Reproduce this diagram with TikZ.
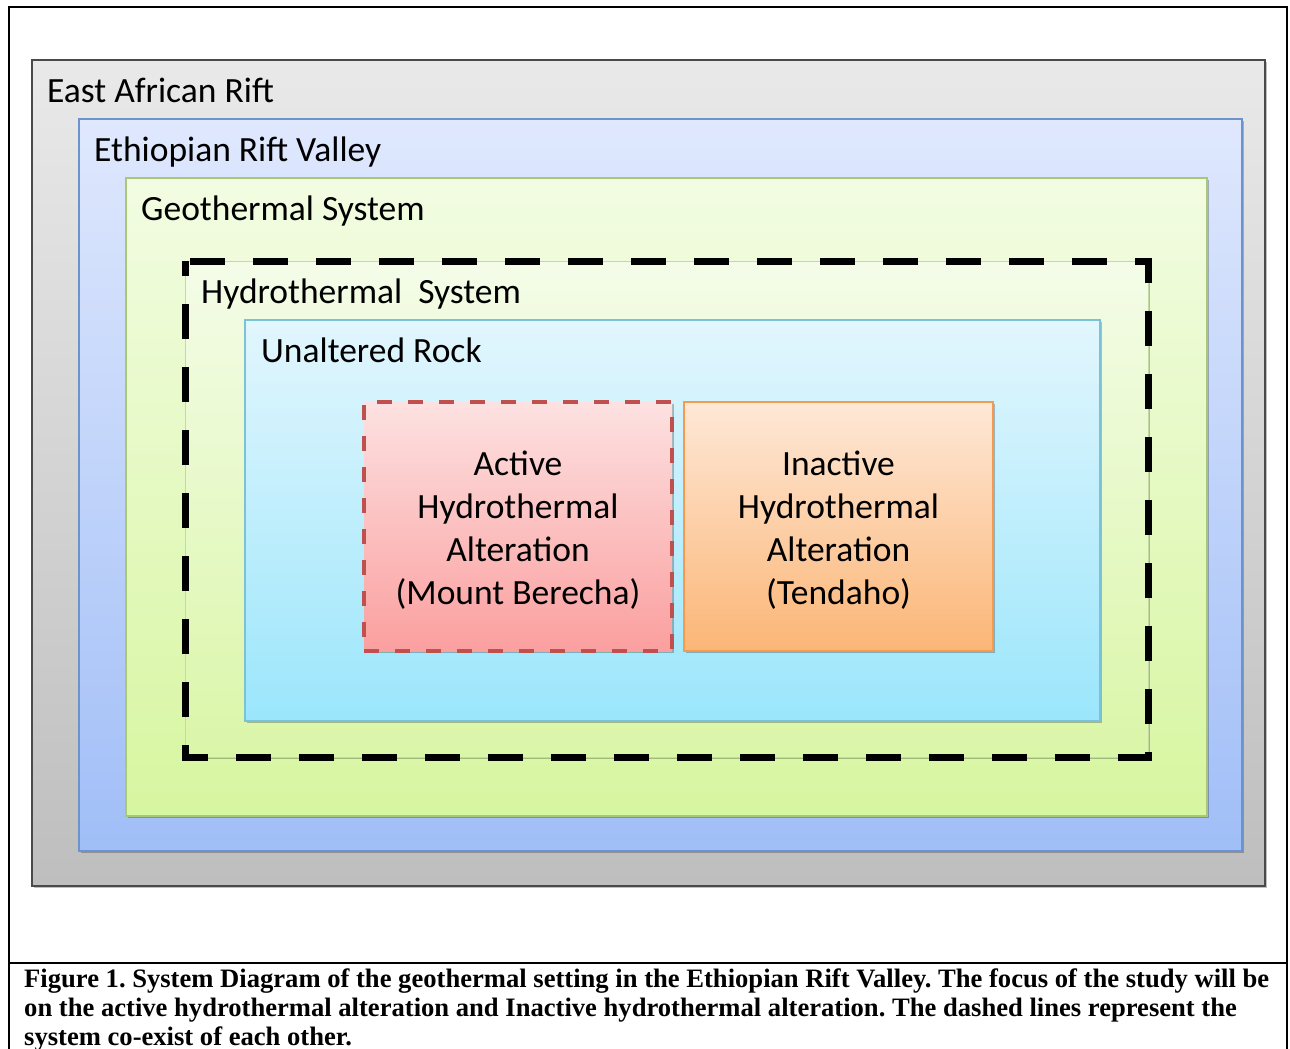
\documentclass[tikz,border=0pt]{standalone}
\usepackage{fontspec}
\setmainfont{Carlito}
\newfontfamily\capfont{Liberation Serif}
\usetikzlibrary{shadows}
\definecolor{earTop}{HTML}{E9E9E9}
\definecolor{earBot}{HTML}{BEBEBE}
\definecolor{earLine}{HTML}{4A4A4A}
\definecolor{ervTop}{HTML}{DFE8FD}
\definecolor{ervBot}{HTML}{A0BEF7}
\definecolor{ervLine}{HTML}{6D93CF}
\definecolor{geoTop}{HTML}{F2FCE2}
\definecolor{geoBot}{HTML}{D7F6A0}
\definecolor{geoLine}{HTML}{A8C878}
\definecolor{hydTop}{HTML}{F4FCE8}
\definecolor{hydBot}{HTML}{DAF6A8}
\definecolor{hydLine}{HTML}{C5D9A5}
\definecolor{unaTop}{HTML}{E2F6FD}
\definecolor{unaBot}{HTML}{9BE6FC}
\definecolor{unaLine}{HTML}{79C2D8}
\definecolor{actTop}{HTML}{FDE1E1}
\definecolor{actBot}{HTML}{FB9F9F}
\definecolor{actLine}{HTML}{C0504D}
\definecolor{inaTop}{HTML}{FEE8D7}
\definecolor{inaBot}{HTML}{FBB676}
\definecolor{inaLine}{HTML}{F59A4E}
\frenchspacing
\begin{document}
\begin{tikzpicture}[x=1pt,y=-1pt,
  layerbox/.style={rectangle, anchor=north west, inner sep=0pt, outer sep=0pt, line width=1.3pt,
    drop shadow={shadow xshift=2pt, shadow yshift=-2pt, opacity=0.25, fill=black}},
  lbltxt/.style={anchor=base west, inner sep=0pt, font=\fontsize{35.5}{40}\selectfont},
  boxtxt/.style={align=center, inner sep=0pt, yshift=-4pt, font=\fontsize{35.5}{43}\selectfont},
  captxt/.style={anchor=base west, inner sep=0pt, font=\capfont\bfseries\fontsize{26.6}{29}\selectfont},
  frameline/.style={line width=2pt, black}
]
\useasboundingbox (0,0) rectangle (1290,1049);
\fill[white] (0,0) rectangle (1290,1049);

% outer frame
\coordinate (fbl) at (9,1060);
\coordinate (ftl) at (9,7);
\coordinate (ftr) at (1287,7);
\coordinate (fbr) at (1287,1060);
\coordinate (sl) at (9,963);
\coordinate (sr) at (1287,963);
\draw[frameline] (fbl) -- (ftl) -- (ftr) -- (fbr);
\draw[frameline] (sl) -- (sr);

% nested boxes
\node[layerbox, draw=earLine, top color=earTop, bottom color=earBot,
      minimum width=1233pt, minimum height=826pt] (ear) at (32,60) {};
\node[layerbox, draw=ervLine, top color=ervTop, bottom color=ervBot,
      minimum width=1163pt, minimum height=732pt] (erv) at (79,119) {};
\node[layerbox, draw=geoLine, top color=geoTop, bottom color=geoBot,
      minimum width=1081pt, minimum height=638pt] (geo) at (126,178) {};
\node[layerbox, draw=hydLine, line width=0.8pt, top color=hydTop, bottom color=hydBot,
      minimum width=963pt, minimum height=496pt] (hyd) at (185,261) {};
\draw[line width=7pt, black, dash pattern=on 35pt off 28pt, dash phase=-5pt]
  (hyd.north west) -- (hyd.north east) -- (hyd.south east) -- (hyd.south west) -- cycle;
\node[layerbox, draw=unaLine, top color=unaTop, bottom color=unaBot,
      minimum width=855pt, minimum height=401pt] (una) at (245,320) {};

\node[layerbox, draw=actLine, line width=3.5pt, dash pattern=on 15pt off 16pt,
      top color=actTop, bottom color=actBot,
      minimum width=308pt, minimum height=249pt] (act) at (364,402) {};
\node[boxtxt] (acttxt) at (act.center) {Active\\Hydrothermal\\Alteration\\(Mount Berecha)};
\node[layerbox, draw=inaLine, top color=inaTop, bottom color=inaBot,
      minimum width=309pt, minimum height=249pt] (ina) at (684,402) {};
\node[boxtxt] (inatxt) at (ina.center) {Inactive\\Hydrothermal\\Alteration\\(Tendaho)};

% labels
\node[lbltxt] (tear) at (47,102) {East African Rift};
\node[lbltxt] (terv) at (94,161) {Ethiopian Rift Valley};
\node[lbltxt] (tgeo) at (141,220) {Geothermal System};
\node[lbltxt] (thyd) at (201,303) {Hydrothermal\ \ System};
\node[lbltxt] (tuna) at (261,362) {Unaltered Rock};

% caption
\node[captxt] (c1) at (24,987) {Figure 1. System Diagram of the geothermal setting in the Ethiopian Rift Valley. The focus of the study will be};
\node[captxt] (c2) at (24,1016) {on the active hydrothermal alteration and Inactive hydrothermal alteration. The dashed lines represent the};
\node[captxt] (c3) at (24,1045) {system co-exist of each other.};
\end{tikzpicture}
\end{document}
